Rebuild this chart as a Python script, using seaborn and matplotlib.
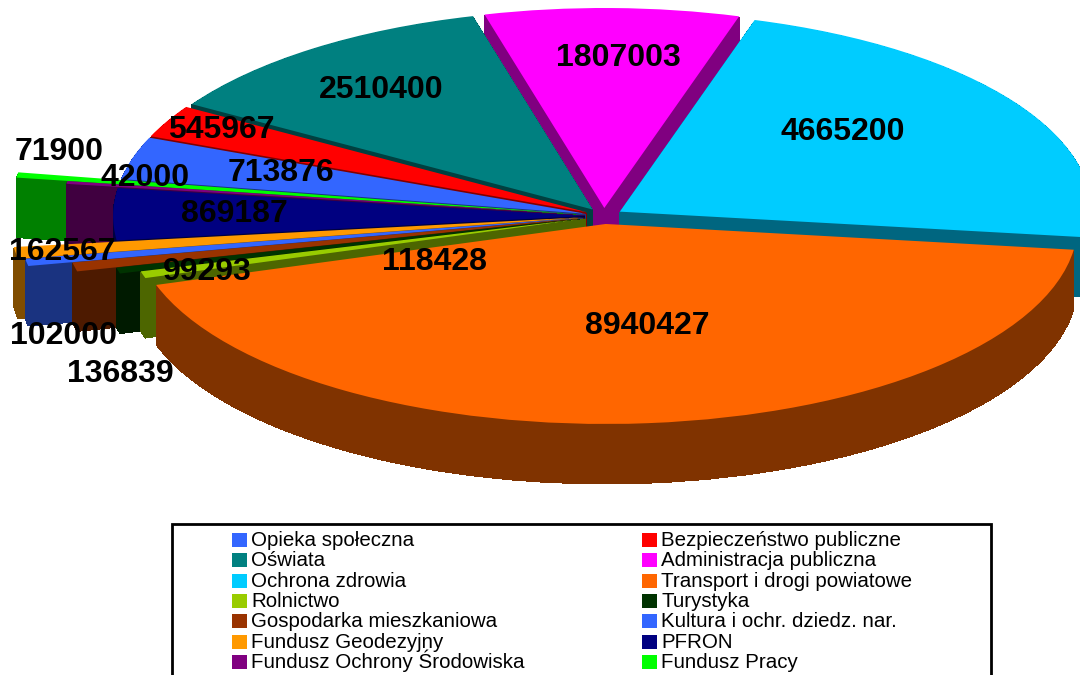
import numpy as np
import seaborn as sns
import matplotlib
matplotlib.use("Agg")
import matplotlib.pyplot as plt
from matplotlib.patches import Rectangle

categories = ['Opieka społeczna', 'Bezpieczeństwo publiczne', 'Oświata', 'Administracja publiczna',
              'Ochrona zdrowia', 'Transport i drogi powiatowe', 'Rolnictwo', 'Turystyka',
              'Gospodarka mieszkaniowa', 'Kultura i ochr. dziedz. nar.', 'Fundusz Geodezyjny',
              'PFRON', 'Fundusz Ochrony Środowiska', 'Fundusz Pracy']
values = [713876, 545967, 2510400, 1807003, 4665200, 8940427, 118428, 99293,
          136839, 102000, 162567, 869187, 42000, 71900]
hex_colors = ['#3366ff', '#ff0000', '#008080', '#ff00ff', '#00ccff', '#ff6600', '#99cc00',
              '#003300', '#993300', '#3366ff', '#ff9900', '#000080', '#800080', '#00ff00']

sns.set_theme(style='white')
plt.rcParams['font.family'] = ['Liberation Sans', 'DejaVu Sans']

W, H = 1080, 675
CX, CY, RX, RY = 604, 216, 472, 200
DEPTH = 60
START = 170

# the little slices on the left stick out further than the big ones
radius_scale = [1, 1, 1, 1, 1, 1, 0.98, 1.025, 1.11, 1.205, 1.22, 1.0, 1.11, 1.22]
explode = [0.04] * len(values)

# label centres in pixels
label_px = [(281, 173), (221, 130), (381, 90), (618, 58), (843, 132), (647, 326), (435, 262),
            (207, 272), (120, 374), (63, 336), (62, 252), (234, 214), (145, 178), (59, 152)]

colors = sns.color_palette(hex_colors)
dark_colors = [tuple(np.array(c) * 0.5) for c in colors]

fig = plt.figure(figsize=(W / 100, H / 100), dpi=100)
ax = fig.add_axes([0, 0, 1, 1])

top, _ = ax.pie(values, colors=colors, explode=explode, startangle=START, counterclock=False,
                wedgeprops={'linewidth': 0})

# back slices first, front slices over them
mids = [np.radians((w.theta1 + w.theta2) / 2) for w in top]
order = np.argsort(-np.sin(mids))
rank = {idx: n for n, idx in enumerate(order)}

for i, w in enumerate(top):
    w.set_radius(radius_scale[i])
    w.set_zorder(rank[i] * 10 + 2)

# side walls: the same pie repeated lower down in darker colours
for k in range(1, DEPTH + 1):
    side, _ = ax.pie(values, colors=dark_colors, explode=explode, startangle=START, counterclock=False,
                     center=(0, -k / RY), wedgeprops={'linewidth': 0, 'antialiased': False})
    for i, w in enumerate(side):
        w.set_radius(radius_scale[i])
        w.set_zorder(rank[i] * 10 + 1)

ax.set_aspect('auto')
ax.set_xlim(-CX / RX, (W - CX) / RX)
ax.set_ylim((CY - H) / RY, CY / RY)
ax.axis('off')

for val, (px, py) in zip(values, label_px):
    fig.text(px / W, 1 - py / H, str(val), fontsize=23, fontweight='bold', color='black',
             ha='center', va='center', zorder=20)

# legend box runs off the bottom of the picture
fig.add_artist(Rectangle((172 / W, -2 / H), 819 / W, 153 / H, fill=False,
                         edgecolor='black', linewidth=2, transform=fig.transFigure))

# legend by hand: fig.legend pushes the row with the capital Ś out of line
for i, name in enumerate(categories):
    row, col = i // 2, i % 2
    x0 = 232 + col * 410
    y0 = 533 + row * 20.35
    fig.add_artist(Rectangle((x0 / W, 1 - (y0 + 14) / H), 14.5 / W, 14 / H, facecolor=colors[i],
                             edgecolor='none', transform=fig.transFigure))
    fig.text((x0 + 19) / W, 1 - (y0 + 13) / H, name, fontsize=14.8, color='black',
             ha='left', va='baseline')

fig.savefig('out.png', dpi=100)
